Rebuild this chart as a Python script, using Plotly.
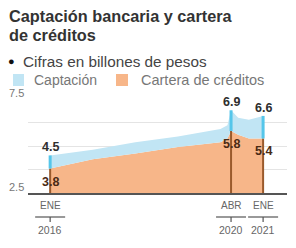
import plotly.graph_objects as go

# ---- data ----
dates = ["2016-01-01", "2017-01-01", "2018-01-01", "2019-01-01", "2020-01-01",
         "2020-03-01", "2020-04-01", "2020-06-01", "2020-09-01", "2021-01-01"]
captacion = [4.5, 4.8, 5.2, 5.5, 5.9, 6.1, 6.9, 6.5, 6.4, 6.6]
cartera = [3.8, 4.3, 4.6, 4.95, 5.2, 5.4, 5.8, 5.6, 5.4, 5.4]
highlight_idx = [0, 6, 9]
tick_months = ["ENE", "ABR", "ENE"]
tick_years = ["2016", "2020", "2021"]
y_min, y_max = 2.5, 7.5
y_grid = [3.75, 5.0, 6.25, 7.5]
y_labels = [7.5, 2.5]

title_lines = ["Captación bancaria y cartera", "de créditos"]
subtitle = "Cifras en billones de pesos"
series_names = ["Captación", "Cartera de créditos"]

# ---- style ----
W, H = 296, 248
L, R, T, B = 28, 9, 99, 55
PW, PH = W - L - R, H - T - B
BLUE_FILL = "#c1e5f4"
ORANGE_FILL = "#f7b689"
BLUE_PIN = "#55c6ea"
BROWN_PIN = "#9a5a2c"
FONT = "Liberation Sans, Arial, sans-serif"


def px(x):
    return (x - L) / PW


def py(y):
    return (H - B - y) / PH


fig = go.Figure()
fig.add_trace(go.Scatter(x=dates, y=cartera, mode="lines", line=dict(width=0, color=ORANGE_FILL),
                         fill="tozeroy", fillcolor=ORANGE_FILL, hoverinfo="skip", showlegend=False))
fig.add_trace(go.Scatter(x=dates, y=captacion, mode="lines", line=dict(width=0, color=BLUE_FILL),
                         fill="tonexty", fillcolor=BLUE_FILL, hoverinfo="skip", showlegend=False))

annotations = []
shapes = []
for k, i in enumerate(highlight_idx):
    d = dates[i]
    fig.add_trace(go.Scatter(x=[d, d], y=[y_min, cartera[i]], mode="lines",
                             line=dict(color=BROWN_PIN, width=2), hoverinfo="skip", showlegend=False))
    fig.add_trace(go.Scatter(x=[d, d], y=[cartera[i], captacion[i]], mode="lines",
                             line=dict(color=BLUE_PIN, width=3), hoverinfo="skip", showlegend=False))
    annotations.append(dict(x=d, y=captacion[i], xref="x", yref="y", text=f"<b>{captacion[i]:.1f}</b>",
                            showarrow=False, yanchor="bottom", yshift=-1,
                            font=dict(family=FONT, size=12.5, color="#2e2e2e")))
    annotations.append(dict(x=d, y=cartera[i], xref="x", yref="y", text=f"<b>{cartera[i]:.1f}</b>",
                            showarrow=False, yanchor="top", yshift=-4,
                            font=dict(family=FONT, size=12.5, color="#4a2a14")))
    # x tick labels
    annotations.append(dict(x=d, y=0, xref="x", yref="paper", text=tick_months[k], showarrow=False,
                            yanchor="middle", yshift=-12, font=dict(family=FONT, size=10, color="#666")))
    annotations.append(dict(x=d, y=0, xref="x", yref="paper", text=tick_years[k], showarrow=False,
                            yanchor="middle", yshift=-37, font=dict(family=FONT, size=10.5, color="#666")))
    shapes.append(dict(type="line", xref="x", yref="paper", xsizemode="pixel", ysizemode="pixel",
                       xanchor=d, yanchor=0, x0=-15, x1=15, y0=-24, y1=-24,
                       line=dict(color="#555", width=1.2)))
    shapes.append(dict(type="line", xref="x", yref="paper", xsizemode="pixel", ysizemode="pixel",
                       xanchor=d, yanchor=0, x0=0, x1=0, y0=-24, y1=-29,
                       line=dict(color="#555", width=1.2)))

for v in y_labels:
    annotations.append(dict(x=px(7), y=v, xref="paper", yref="y", text=f"{v:.1f}", showarrow=False,
                            xanchor="left", yanchor="bottom", yshift=-2,
                            font=dict(family=FONT, size=11, color="#777")))

# title & subtitle & legend
annotations.append(dict(x=px(7), y=py(16), xref="paper", yref="paper", text=f"<b>{title_lines[0]}</b>",
                        showarrow=False, xanchor="left", yanchor="middle",
                        font=dict(family=FONT, size=16.3, color="#333")))
annotations.append(dict(x=px(7), y=py(35), xref="paper", yref="paper", text=f"<b>{title_lines[1]}</b>",
                        showarrow=False, xanchor="left", yanchor="middle",
                        font=dict(family=FONT, size=16.3, color="#333")))
annotations.append(dict(x=px(6), y=py(61), xref="paper", yref="paper", text="●",
                        showarrow=False, xanchor="left", yanchor="middle",
                        font=dict(family=FONT, size=11, color="#111")))
annotations.append(dict(x=px(21), y=py(61), xref="paper", yref="paper", text=subtitle,
                        showarrow=False, xanchor="left", yanchor="middle",
                        font=dict(family=FONT, size=15.3, color="#444")))
annotations.append(dict(x=px(32), y=py(80), xref="paper", yref="paper", text=series_names[0],
                        showarrow=False, xanchor="left", yanchor="middle",
                        font=dict(family=FONT, size=14, color="#777")))
annotations.append(dict(x=px(139), y=py(80), xref="paper", yref="paper", text=series_names[1],
                        showarrow=False, xanchor="left", yanchor="middle",
                        font=dict(family=FONT, size=14.5, color="#777")))
shapes.append(dict(type="rect", xref="paper", yref="paper", x0=px(13), x1=px(24), y0=py(86), y1=py(74),
                   fillcolor=BLUE_FILL, line=dict(width=0)))
shapes.append(dict(type="rect", xref="paper", yref="paper", x0=px(116), x1=px(128), y0=py(86), y1=py(74),
                   fillcolor=ORANGE_FILL, line=dict(width=0)))

fig.update_layout(
    width=W, height=H, margin=dict(l=L, r=R, t=T, b=B),
    paper_bgcolor="white", plot_bgcolor="white",
    showlegend=False, annotations=annotations, shapes=shapes,
    xaxis=dict(type="date", range=["2015-06-25", "2021-07-25"], showgrid=False, showticklabels=False,
               ticks="", showline=True, linecolor="#555", linewidth=1.5, zeroline=False, fixedrange=True),
    yaxis=dict(range=[y_min, y_max], tickvals=y_grid, showticklabels=False, showgrid=True,
               gridcolor="#e4e4e4", gridwidth=1, zeroline=False, ticks="", fixedrange=True),
)

fig.write_html("out.html", config={"displayModeBar": False},
               post_script="document.body.style.margin='0';document.body.style.padding='0';")
